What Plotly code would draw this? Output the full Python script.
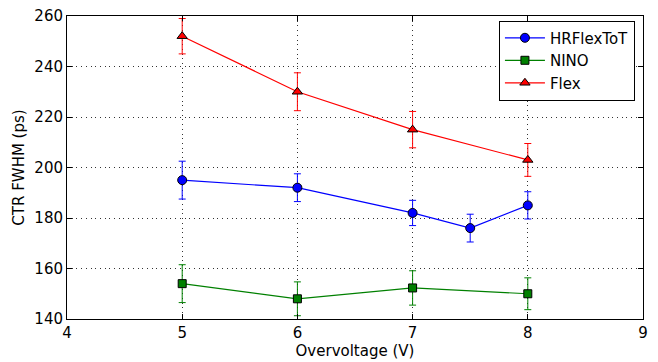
import plotly.graph_objects as go

hr_x = [5, 6, 7, 7.5, 8]
hr_y = [195, 192, 182, 176, 185]
hr_err = [7.5, 5.5, 5, 5.5, 5.4]

nino_x = [5, 6, 7, 8]
nino_y = [154, 148, 152.3, 150]
nino_err = [7.5, 6.7, 6.8, 6.3]

flex_x = [5, 6, 7, 8]
flex_y = [252, 230, 215, 203]
flex_err = [7, 7.5, 7.2, 6.5]

x_ticks = [4, 5, 6, 7, 8, 9]
y_ticks = [140, 160, 180, 200, 220, 240, 260]

fig = go.Figure()

def add(x, y, e, name, color, symbol, size):
    fig.add_trace(go.Scatter(
        x=x, y=y, name=name, mode="lines+markers",
        line=dict(color=color, width=1.2),
        marker=dict(symbol=symbol, size=size, color=color,
                    line=dict(color="black", width=1)),
        error_y=dict(type="data", array=e, visible=True,
                     color=color, thickness=1, width=3.5),
    ))

add(hr_x, hr_y, hr_err, "HRFlexToT", "#0000ff", "circle", 9)
add(nino_x, nino_y, nino_err, "NINO", "#008000", "square", 8)
add(flex_x, flex_y, flex_err, "Flex", "#ff0000", "triangle-up", 9)

axis_common = dict(
    showline=True, linecolor="black", linewidth=1, mirror="ticks",
    ticks="inside", ticklen=5, tickcolor="black",
    showgrid=True, gridcolor="#333333", gridwidth=1, griddash="1px,3.7px",
    zeroline=False, tickfont=dict(size=15, color="black"),
    automargin=False,
)

fig.update_layout(
    width=658, height=362,
    margin=dict(l=67, r=15, t=16, b=43, autoexpand=False),
    paper_bgcolor="white", plot_bgcolor="white",
    font=dict(family="DejaVu Sans", color="black", size=15),
    xaxis=dict(range=[4, 9], tickvals=x_ticks,
               title=dict(text="Overvoltage (V)", font=dict(size=15), standoff=4),
               **axis_common),
    yaxis=dict(range=[140, 260], tickvals=y_ticks,
               title=dict(text="CTR FWHM (ps)", font=dict(size=15), standoff=6),
               **axis_common),
    legend=dict(x=0.986, xanchor="right", y=0.985, yanchor="top",
                bordercolor="black", borderwidth=1, bgcolor="white",
                font=dict(size=15), tracegroupgap=0, itemwidth=40),
    showlegend=True,
)

fig.write_html("out.html", config={"displayModeBar": False},
               post_script="document.body.style.margin='0';document.body.style.padding='0';")
